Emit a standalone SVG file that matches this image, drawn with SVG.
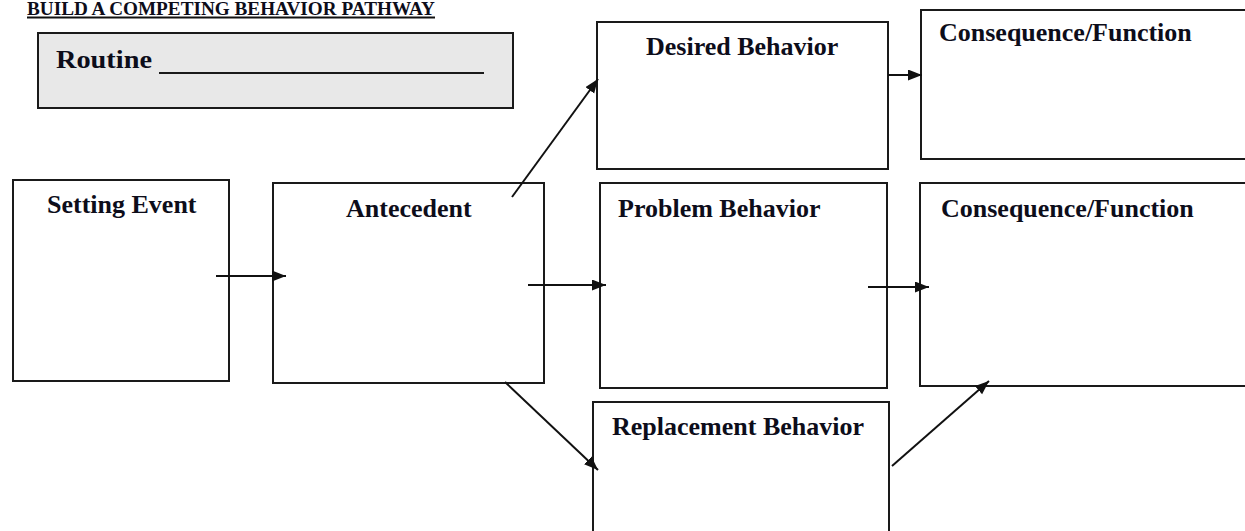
<svg xmlns="http://www.w3.org/2000/svg" width="1245" height="531" viewBox="0 0 1245 531">
  <defs>
    <marker id="arrow" markerUnits="userSpaceOnUse" markerWidth="15" markerHeight="12" refX="14" refY="5.5" orient="auto">
      <path d="M0,0 L14,5.5 L0,11 z" fill="#111"/>
    </marker>
  </defs>
  <style>
    .box { fill: #ffffff; stroke: #1a1a1a; stroke-width: 2; }
    .shaded { fill: #e8e8e8; }
    .label { font-family: "Liberation Serif", "Times New Roman", serif; font-weight: bold; font-size: 26px; fill: #0d0d1a; }
    .conn line { stroke: #111; stroke-width: 2; marker-end: url(#arrow); }
  </style>
  <rect width="1245" height="531" fill="#ffffff"/>

  <!-- heading -->
  <g id="title">
    <text x="27" y="15" font-family="Liberation Serif, 'Times New Roman', serif" font-weight="bold" font-size="19" fill="#0d0d1a" textLength="408" lengthAdjust="spacingAndGlyphs">BUILD A COMPETING BEHAVIOR PATHWAY</text>
    <rect x="27" y="16.5" width="408" height="2" fill="#111"/>
  </g>

  <!-- routine field -->
  <g id="routine">
    <rect class="box shaded" x="38" y="33" width="475" height="75"/>
    <text class="label" x="56" y="68" font-size="28" textLength="96" lengthAdjust="spacingAndGlyphs">Routine</text>
    <line x1="159" y1="73" x2="484" y2="73" stroke="#1a1a1a" stroke-width="2"/>
  </g>

  <g id="setting-event">
    <rect class="box" x="13" y="180" width="216" height="201"/>
    <text class="label" x="47" y="213">Setting Event</text>
  </g>

  <g id="antecedent">
    <rect class="box" x="273" y="183" width="271" height="200"/>
    <text class="label" x="346" y="217">Antecedent</text>
  </g>

  <g id="desired-behavior">
    <rect class="box" x="597" y="22" width="291" height="147"/>
    <text class="label" x="646" y="55">Desired Behavior</text>
  </g>

  <g id="problem-behavior">
    <rect class="box" x="600" y="183" width="287" height="205"/>
    <text class="label" x="618" y="217">Problem Behavior</text>
  </g>

  <g id="replacement-behavior">
    <rect class="box" x="593" y="402" width="296" height="140"/>
    <text class="label" x="612" y="435">Replacement Behavior</text>
  </g>

  <g id="consequence-desired">
    <rect class="box" x="921" y="10" width="340" height="149"/>
    <text class="label" x="939" y="41">Consequence/Function</text>
  </g>

  <g id="consequence-problem">
    <rect class="box" x="920" y="183" width="340" height="203"/>
    <text class="label" x="941" y="217">Consequence/Function</text>
  </g>

  <!-- arrows between the boxes -->
  <g id="connectors" class="conn">
    <line x1="216" y1="276" x2="286" y2="276"/>
    <line x1="528" y1="285" x2="606" y2="285"/>
    <line x1="868" y1="287" x2="929" y2="287"/>
    <line x1="512" y1="197" x2="598" y2="79"/>
    <line x1="888" y1="75" x2="922" y2="75"/>
    <line x1="505" y1="382" x2="598" y2="470"/>
    <line x1="892" y1="466" x2="989" y2="381"/>
  </g>
</svg>
